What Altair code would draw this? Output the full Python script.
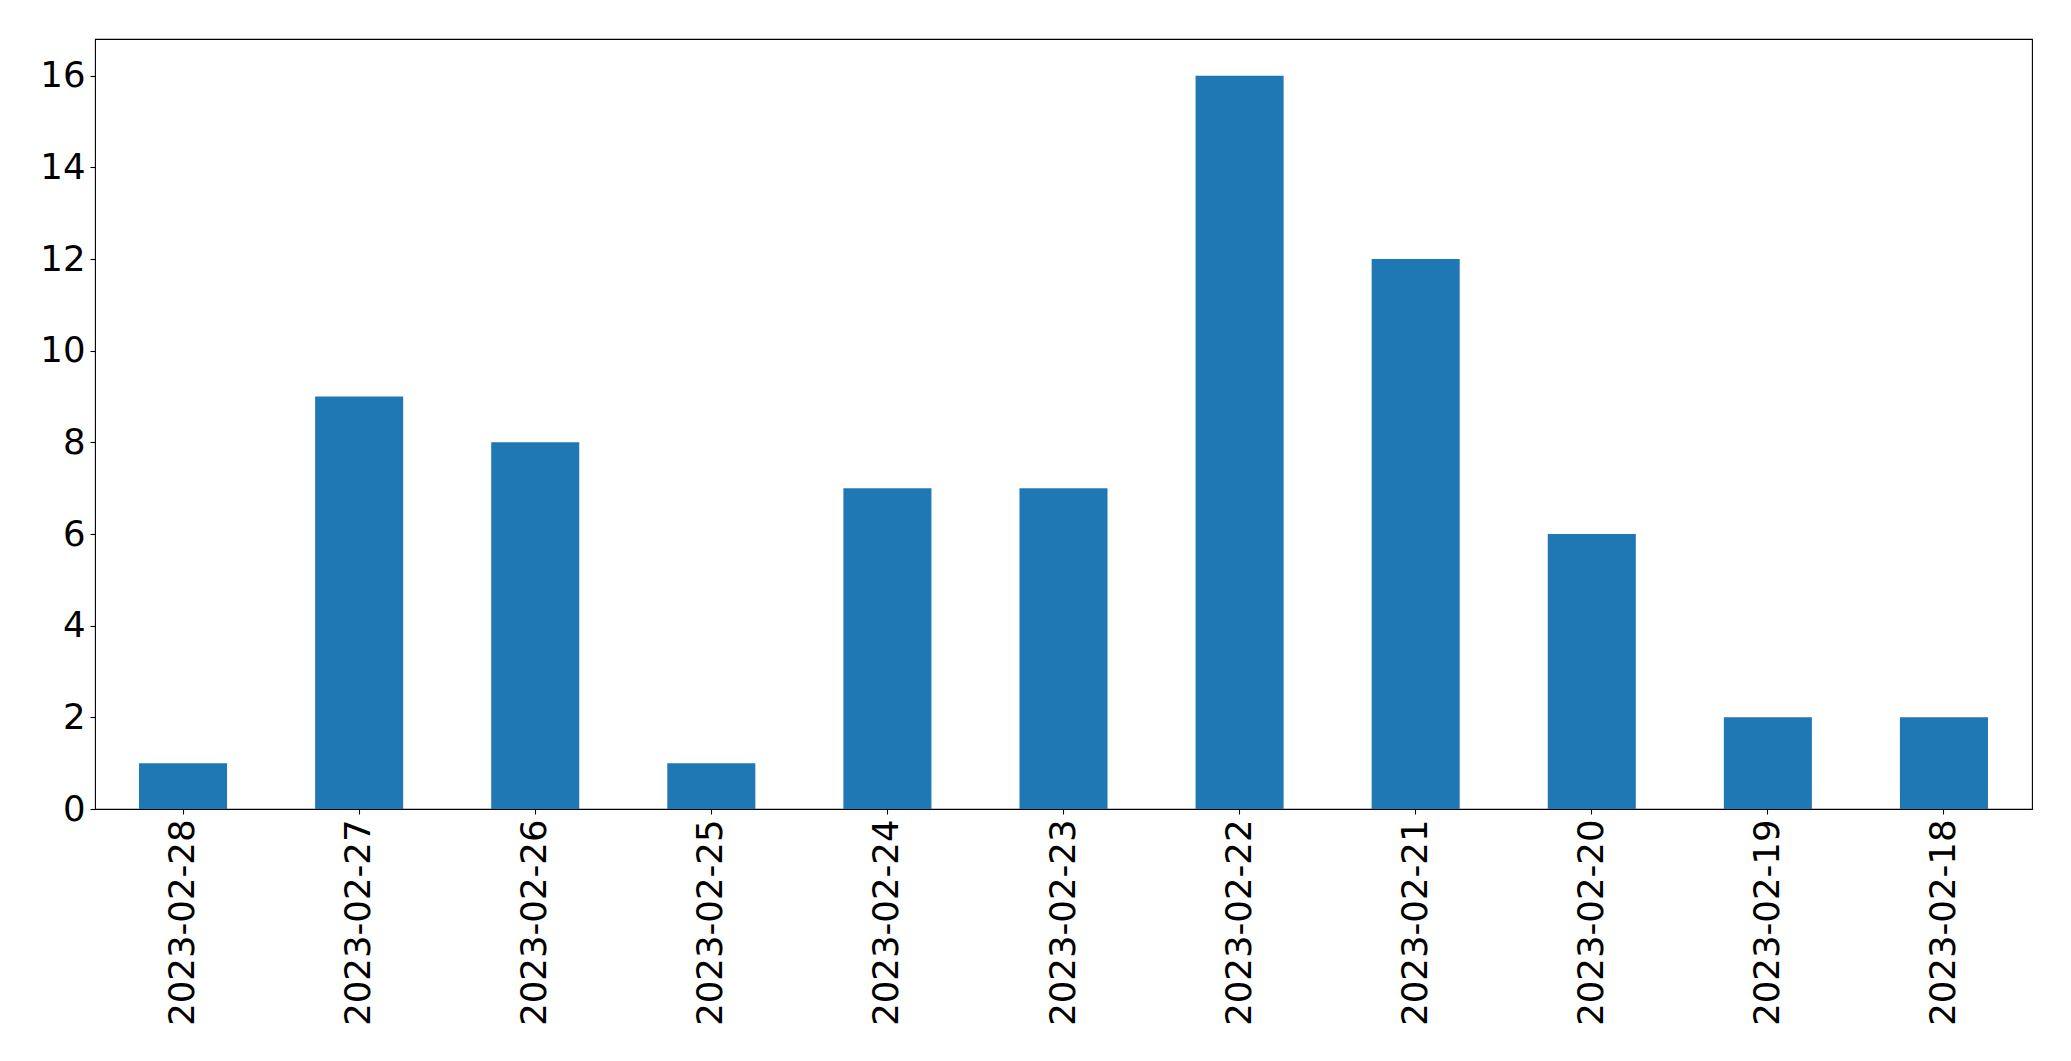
import altair as alt
import pandas as pd

dates = ["2023-02-28", "2023-02-27", "2023-02-26", "2023-02-25", "2023-02-24",
         "2023-02-23", "2023-02-22", "2023-02-21", "2023-02-20", "2023-02-19",
         "2023-02-18"]
counts = [1, 9, 8, 1, 7, 7, 16, 12, 6, 2, 2]

df = pd.DataFrame({"date": dates, "count": counts})

FONT = "DejaVu Sans"
FS = 35.5

chart = alt.Chart(df).mark_bar(color="#1f77b4").encode(
    x=alt.X("date:N", sort=None, title=None,
            scale=alt.Scale(paddingInner=0.5, paddingOuter=0.25),
            axis=alt.Axis(labelAngle=270, labelAlign="right", labelBaseline="middle",
                          labelFontSize=FS, labelFont=FONT, labelColor="black",
                          labelLimit=0,
                          tickColor="black", tickSize=5, tickWidth=1.1,
                          labelPadding=5, domain=False, grid=False)),
    y=alt.Y("count:Q", title=None,
            scale=alt.Scale(domain=[0, 16.8], nice=False, zero=True),
            axis=alt.Axis(values=[0, 2, 4, 6, 8, 10, 12, 14, 16],
                          labelFontSize=FS, labelFont=FONT, labelColor="black",
                          tickColor="black", tickSize=5, tickWidth=1.1,
                          labelPadding=5, domain=False, grid=False)),
).properties(
    width=1937,
    height=770,
    background="white",
    autosize=alt.AutoSizeParams(type="none"),
    padding={"left": 87, "top": 31, "right": 30, "bottom": 230},
).configure_view(
    stroke="black", strokeWidth=1.1
)

chart.save("out.html", embed_options={"renderer": "svg", "actions": False})
